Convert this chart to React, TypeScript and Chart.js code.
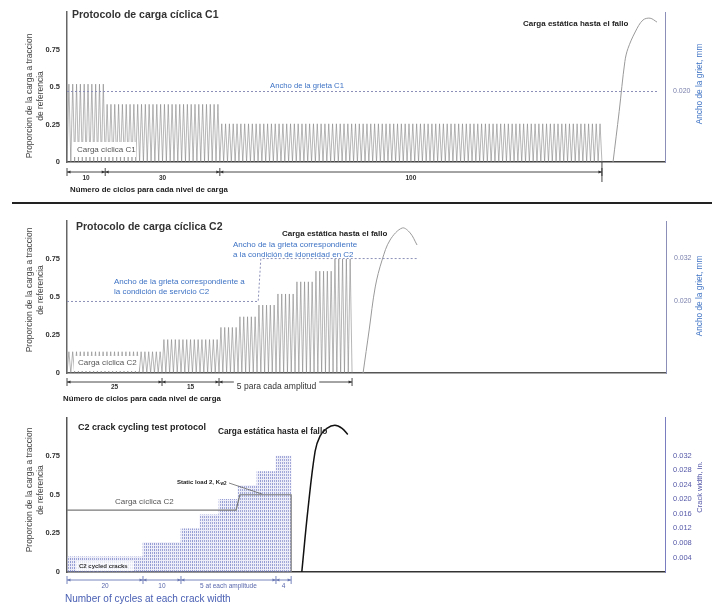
import React, { useEffect, useRef } from "react";
import { Chart, registerables } from "chart.js";
Chart.register(...registerables);

const FONT = '"Liberation Sans", Arial, Helvetica, sans-serif';
const BLUE = "#3d72c4";
const GRAYBLUE = "#7a80ac";
const INDIGO = "#5558a8";

// ---------- Panel 1: C1 protocol ----------
const c1CycleCounts = [10, 30, 100];
const c1PeakLoads = [0.52, 0.385, 0.255];
const c1CountLabels = ["10", "30", "100"];
const c1CrackX = [0, 154.7];
const c1CrackW = [0.02, 0.02];
const c1StaticX = [142.9, 144.5, 146.0, 146.8, 148.7, 150.7, 152.6, 154.4];
const c1StaticY = [0, 0.336, 0.671, 0.757, 0.868, 0.947, 0.96, 0.934];

// ---------- Panel 2: C2 protocol ----------
const c2CycleCounts = [25, 15, 5, 5, 5, 5, 5, 5, 5];
const c2PeakLoads = [0.14, 0.22, 0.3, 0.37, 0.447, 0.52, 0.6, 0.67, 0.75];
const c2DimGroups = [25, 15, 35];
const c2CountLabels = ["25", "15", "5 para cada amplitud"];
const c2CrackX = [0, 50.3, 51.0, 92.1];
const c2CrackW = [0.02, 0.02, 0.032, 0.032];
const c2StaticX = [77.9, 79.5, 81.1, 82.9, 85.0, 88.2, 90.3, 92.1];
const c2StaticY = [0, 0.283, 0.566, 0.743, 0.875, 0.954, 0.921, 0.842];

// ---------- Panel 3: C2 crack cycling ----------
const c3CycleCounts = [20, 10, 5, 5, 5, 5, 5, 4];
const c3Levels = [0.098, 0.19, 0.28, 0.37, 0.47, 0.56, 0.65, 0.75];
const c3DimGroups = [20, 10, 25, 4];
const c3CountLabels = ["20", "10", "5 at each amplitude", "4"];
const c3LoadX = [0, 44.5, 45.5, 59, 59];
const c3LoadY = [0.4, 0.4, 0.5, 0.5, 0];
const c3StaticX = [61.8, 63.4, 65.3, 66.6, 68.4, 70.5, 72.4, 73.9];
const c3StaticY = [0, 0.4, 0.78, 0.88, 0.93, 0.95, 0.93, 0.89];

// ---------- Tick values ----------
const loadTicks = [0, 0.25, 0.5, 0.75];
const crackTicksC1 = [0.02];
const crackTicksC2 = [0.02, 0.032];
const crackTicksIn = [0.004, 0.008, 0.012, 0.016, 0.02, 0.024, 0.028, 0.032];

const zip = (xs: number[], ys: number[]) => xs.map((x, i) => ({ x, y: ys[i] }));

function sawtooth(counts: number[], peaks: number[]) {
  const pts: { x: number; y: number }[] = [];
  let c = 0;
  counts.forEach((n, g) => {
    for (let i = 0; i < n; i++) {
      pts.push({ x: c, y: 0 });
      pts.push({ x: c + 0.5, y: peaks[g] });
      c += 1;
    }
  });
  pts.push({ x: c, y: 0 });
  return pts;
}

function cycleBars(counts: number[], levels: number[]) {
  const pts: { x: number; y: number }[] = [];
  let c = 0;
  counts.forEach((n, g) => {
    for (let i = 0; i < n; i++) {
      pts.push({ x: c + 0.5, y: levels[g] });
      c += 1;
    }
  });
  return pts;
}

function cumulative(groups: number[]) {
  const out = [0];
  groups.forEach((g) => out.push(out[out.length - 1] + g));
  return out;
}

function text(ctx: CanvasRenderingContext2D, s: string, x: number, y: number, size: number, color: string, weight = "normal", align: CanvasTextAlign = "left") {
  ctx.save();
  ctx.font = `${weight} ${size}px ${FONT}`;
  ctx.fillStyle = color;
  ctx.textAlign = align;
  ctx.textBaseline = "middle";
  ctx.fillText(s, x, y);
  ctx.restore();
}

function vtext(ctx: CanvasRenderingContext2D, s: string, x: number, y: number, size: number, color: string, weight = "normal") {
  ctx.save();
  ctx.translate(x, y);
  ctx.rotate(-Math.PI / 2);
  ctx.font = `${weight} ${size}px ${FONT}`;
  ctx.fillStyle = color;
  ctx.textAlign = "center";
  ctx.textBaseline = "middle";
  ctx.fillText(s, 0, 0);
  ctx.restore();
}

function box(ctx: CanvasRenderingContext2D, x: number, y: number, w: number, h: number, color = "#ffffff") {
  ctx.save();
  ctx.fillStyle = color;
  ctx.fillRect(x, y, w, h);
  ctx.restore();
}

function arrow(ctx: CanvasRenderingContext2D, tipX: number, y: number, dir: number) {
  ctx.beginPath();
  ctx.moveTo(tipX, y);
  ctx.lineTo(tipX + dir * 3.5, y - 1.6);
  ctx.lineTo(tipX + dir * 3.5, y + 1.6);
  ctx.closePath();
  ctx.fill();
}

function dim(
  ctx: CanvasRenderingContext2D,
  xs: number[],
  y: number,
  color: string,
  labels: string[],
  labelY: number,
  size: number,
  weight: string,
  labelColor: string,
  opts: { offsets?: number[]; gap?: number[]; sizes?: number[] } = {}
) {
  ctx.save();
  ctx.strokeStyle = color;
  ctx.fillStyle = color;
  ctx.lineWidth = 0.9;
  for (let i = 0; i < xs.length - 1; i++) {
    const a = xs[i];
    const b = xs[i + 1];
    const cx = (a + b) / 2 + (opts.offsets?.[i] ?? 0);
    const sz = opts.sizes?.[i] ?? size;
    const wt = opts.sizes?.[i] ? "normal" : weight;
    ctx.font = `${wt} ${sz || size}px ${FONT}`;
    ctx.beginPath();
    if (opts.gap?.includes(i)) {
      const w = ctx.measureText(labels[i]).width;
      ctx.moveTo(a, y);
      ctx.lineTo(cx - w / 2 - 3, y);
      ctx.moveTo(cx + w / 2 + 3, y);
      ctx.lineTo(b, y);
    } else {
      ctx.moveTo(a, y);
      ctx.lineTo(b, y);
    }
    ctx.stroke();
    arrow(ctx, a, y, 1);
    arrow(ctx, b, y, -1);
    ctx.fillStyle = labelColor;
    ctx.textAlign = "center";
    ctx.textBaseline = "middle";
    ctx.fillText(labels[i], cx, labelY);
    ctx.fillStyle = color;
  }
  xs.forEach((x) => {
    ctx.beginPath();
    ctx.moveTo(x, y - 4);
    ctx.lineTo(x, y + 4);
    ctx.stroke();
  });
  ctx.restore();
}

function yTitle(ctx: CanvasRenderingContext2D, cy: number) {
  vtext(ctx, "Proporcion de la carga a traccion", 30, cy, 8.5, "#444");
  vtext(ctx, "de referencia", 40.5, cy, 8.5, "#444");
}

type PanelCfg = {
  top: number;
  bottom: number;
  right: number;
  xMax: number;
  y2Ticks: number[];
  y2Color: string;
  y2Size: number;
  y2Border: string;
  yBorder: string;
  xBorder: string;
  datasets: any[];
  overlay: (chart: Chart) => void;
};

function makeChart(canvas: HTMLCanvasElement, p: PanelCfg) {
  const H = 200;
  return new Chart(canvas, {
    type: "line",
    data: { datasets: p.datasets },
    options: {
      responsive: false,
      animation: false,
      devicePixelRatio: 1,
      layout: { padding: { top: p.top, left: 0, right: 0, bottom: 0 } },
      plugins: { legend: { display: false }, tooltip: { enabled: false }, title: { display: false } },
      elements: { point: { radius: 0 } },
      scales: {
        x: {
          type: "linear",
          min: 0,
          max: p.xMax,
          offset: false,
          grid: { display: false, drawTicks: false },
          ticks: { display: false },
          border: { color: p.xBorder, width: 1.5 },
          afterFit: (s: any) => {
            s.height = H - p.bottom;
          },
        },
        y: {
          type: "linear",
          position: "left",
          min: 0,
          max: 1,
          grid: { display: false, drawTicks: false },
          border: { color: p.yBorder, width: 1.5 },
          ticks: {
            padding: 7,
            color: "#333",
            font: { family: FONT, size: 7.5, weight: "bold" },
            callback: (v: any) => String(v),
          },
          afterBuildTicks: (s: any) => {
            s.ticks = loadTicks.map((v) => ({ value: v }));
          },
          afterFit: (s: any) => {
            s.width = 67;
          },
        },
        y2: {
          type: "linear",
          position: "right",
          min: 0,
          max: 0.0425,
          grid: { display: false, drawTicks: false },
          border: { color: p.y2Border, width: 1, dash: [2, 2] },
          ticks: {
            padding: 8,
            color: p.y2Color,
            font: { family: FONT, size: p.y2Size },
            callback: (v: any) => Number(v).toFixed(3),
          },
          afterBuildTicks: (s: any) => {
            s.ticks = p.y2Ticks.map((v) => ({ value: v }));
          },
          afterFit: (s: any) => {
            s.width = 715 - p.right;
          },
        },
      },
    } as any,
    plugins: [{ id: "overlay", afterDraw: (chart: Chart) => p.overlay(chart) }],
  });
}

const SAW = "rgba(125,125,125,0.7)";

function buildC1(canvas: HTMLCanvasElement) {
  return makeChart(canvas, {
    top: 10,
    bottom: 162,
    right: 665,
    xMax: 156.5,
    y2Ticks: crackTicksC1,
    y2Color: GRAYBLUE,
    y2Size: 7,
    y2Border: "#8c90b8",
    yBorder: "#666",
    xBorder: "#444",
    datasets: [
      { data: zip(c1CrackX, c1CrackW), yAxisID: "y2", borderColor: "#8c90b8", borderWidth: 1, borderDash: [2, 2], pointRadius: 0 },
      { data: zip(c1StaticX, c1StaticY), yAxisID: "y", borderColor: "#9a9a9a", borderWidth: 1, tension: 0.35, pointRadius: 0 },
      { data: sawtooth(c1CycleCounts, c1PeakLoads), yAxisID: "y", borderColor: SAW, borderWidth: 0.8, tension: 0, pointRadius: 0 },
    ],
    overlay: (chart) => {
      const ctx = chart.ctx;
      const xs = chart.scales.x;
      text(ctx, "Protocolo de carga cíclica C1", 72, 15, 10.5, "#333", "bold");
      text(ctx, "Carga estática hasta el fallo", 523, 24, 8, "#222", "bold");
      text(ctx, "Ancho de la grieta C1", 270, 86, 7.7, BLUE);
      box(ctx, 73, 142, 63, 15);
      text(ctx, "Carga cíclica C1", 77, 149.5, 8, "#555");
      const bx = cumulative(c1CycleCounts).map((v) => xs.getPixelForValue(v));
      dim(ctx, bx, 172, "#333", c1CountLabels, 178, 6.5, "bold", "#333");
      ctx.save();
      ctx.strokeStyle = "#333";
      ctx.lineWidth = 0.9;
      ctx.beginPath();
      ctx.moveTo(bx[bx.length - 1], chart.chartArea.bottom);
      ctx.lineTo(bx[bx.length - 1], 182);
      ctx.stroke();
      ctx.restore();
      text(ctx, "Número de ciclos para cada nivel de carga", 70, 190, 7.8, "#222", "bold");
      yTitle(ctx, 96);
      vtext(ctx, "Ancho de la griet, mm", 700, 84, 8.3, BLUE);
    },
  });
}

function buildC2(canvas: HTMLCanvasElement) {
  return makeChart(canvas, {
    top: 16,
    bottom: 168,
    right: 666,
    xMax: 157.6,
    y2Ticks: crackTicksC2,
    y2Color: GRAYBLUE,
    y2Size: 7,
    y2Border: "#8c90b8",
    yBorder: "#666",
    xBorder: "#555",
    datasets: [
      { data: zip(c2CrackX, c2CrackW), yAxisID: "y2", borderColor: "#8c90b8", borderWidth: 1, borderDash: [2, 2], pointRadius: 0 },
      { data: zip(c2StaticX, c2StaticY), yAxisID: "y", borderColor: "#9a9a9a", borderWidth: 1, tension: 0.35, pointRadius: 0 },
      { data: sawtooth(c2CycleCounts, c2PeakLoads), yAxisID: "y", borderColor: SAW, borderWidth: 0.8, tension: 0, pointRadius: 0 },
    ],
    overlay: (chart) => {
      const ctx = chart.ctx;
      const xs = chart.scales.x;
      text(ctx, "Protocolo de carga cíclica C2", 76, 22, 10.5, "#333", "bold");
      text(ctx, "Carga estática hasta el fallo", 282, 29, 8, "#222", "bold");
      text(ctx, "Ancho de la grieta correspondiente", 233, 40, 8, BLUE);
      text(ctx, "a la condición de idoneidad en C2", 233, 49.5, 8, BLUE);
      text(ctx, "Ancho de la grieta correspondiente a", 114, 77, 8, BLUE);
      text(ctx, "la condición de servicio C2", 114, 86.5, 8, BLUE);
      box(ctx, 74, 151, 65, 15);
      text(ctx, "Carga cíclica C2", 78, 158, 8, "#555");
      const bx = cumulative(c2DimGroups).map((v) => xs.getPixelForValue(v));
      dim(ctx, bx, 177, "#333", c2CountLabels, 182, 6.5, "bold", "#333", { offsets: [0, 0, -9], gap: [2], sizes: [0, 0, 8.5] });
      text(ctx, "Número de ciclos para cada nivel de carga", 63, 194, 7.8, "#222", "bold");
      yTitle(ctx, 85);
      vtext(ctx, "Ancho de la griet, mm", 700, 91, 8.3, BLUE);
    },
  });
}

function makePattern() {
  const c = document.createElement("canvas");
  c.width = 2;
  c.height = 3;
  const g = c.getContext("2d")!;
  g.fillStyle = "rgba(205,210,238,0.35)";
  g.fillRect(0, 0, 2, 3);
  g.fillStyle = "rgba(100,112,192,0.55)";
  g.fillRect(0, 0, 1, 2);
  return g.createPattern(c, "repeat");
}

function buildC3(canvas: HTMLCanvasElement) {
  const pattern = makePattern();
  return makeChart(canvas, {
    top: 11,
    bottom: 167,
    right: 665,
    xMax: 157.4,
    y2Ticks: crackTicksIn,
    y2Color: INDIGO,
    y2Size: 7.5,
    y2Border: "#7a7ec0",
    yBorder: "#555",
    xBorder: "#333",
    datasets: [
      { data: zip(c3LoadX, c3LoadY), yAxisID: "y", borderColor: "#7a7a7a", borderWidth: 1.2, tension: 0, pointRadius: 0 },
      { data: zip(c3StaticX, c3StaticY), yAxisID: "y", borderColor: "#111", borderWidth: 1.5, tension: 0.35, pointRadius: 0 },
      {
        type: "bar",
        data: cycleBars(c3CycleCounts, c3Levels),
        yAxisID: "y",
        backgroundColor: pattern,
        borderWidth: 0,
        barPercentage: 1,
        categoryPercentage: 1,
      },
    ],
    overlay: (chart) => {
      const ctx = chart.ctx;
      const xs = chart.scales.x;
      text(ctx, "C2 crack cycling test protocol", 78, 23, 9, "#222", "bold");
      text(ctx, "Carga estática hasta el fallo", 218, 27, 8.3, "#222", "bold");
      ctx.save();
      ctx.font = `bold 6px ${FONT}`;
      const w = ctx.measureText("Static load 2, K").width;
      ctx.restore();
      text(ctx, "Static load 2, K", 177, 77, 6, "#222", "bold");
      text(ctx, "w2", 177 + w + 0.5, 79, 4.5, "#222", "bold");
      ctx.save();
      ctx.strokeStyle = "#666";
      ctx.lineWidth = 0.8;
      ctx.beginPath();
      ctx.moveTo(186 + w, 78);
      ctx.lineTo(262, 89);
      ctx.stroke();
      ctx.restore();
      text(ctx, "Carga cíclica C2", 115, 97, 8, "#555");
      box(ctx, 76, 156, 58, 10, "rgba(255,255,255,0.75)");
      text(ctx, "C2 cycled cracks", 79, 161, 6, "#333", "bold");
      const bx = cumulative(c3DimGroups).map((v) => xs.getPixelForValue(v));
      dim(ctx, bx, 175, "#6a78b4", c3CountLabels, 181.5, 6.5, "normal", "#5a68ac");
      text(ctx, "Number of cycles at each crack width", 65, 194, 10, "#4a60b4");
      yTitle(ctx, 85);
      vtext(ctx, "Crack width, in.", 700, 82, 7.5, INDIGO);
    },
  });
}

function ChartCanvas({ top, build }: { top: number; build: (c: HTMLCanvasElement) => Chart }) {
  const ref = useRef<HTMLCanvasElement>(null);
  useEffect(() => {
    const ch = build(ref.current!);
    return () => ch.destroy();
  }, []);
  return (
    <canvas
      ref={ref}
      width={715}
      height={200}
      style={{ position: "absolute", left: 0, top, width: 715, height: 200 }}
    />
  );
}

export default function App() {
  return (
    <div style={{ position: "absolute", left: 0, top: 0, width: 715, height: 605, background: "#fff", overflow: "hidden" }}>
      <ChartCanvas top={0} build={buildC1} />
      <div style={{ position: "absolute", left: 12, top: 201.5, width: 700, height: 2.5, background: "#222" }} />
      <ChartCanvas top={205} build={buildC2} />
      <ChartCanvas top={405} build={buildC3} />
    </div>
  );
}
